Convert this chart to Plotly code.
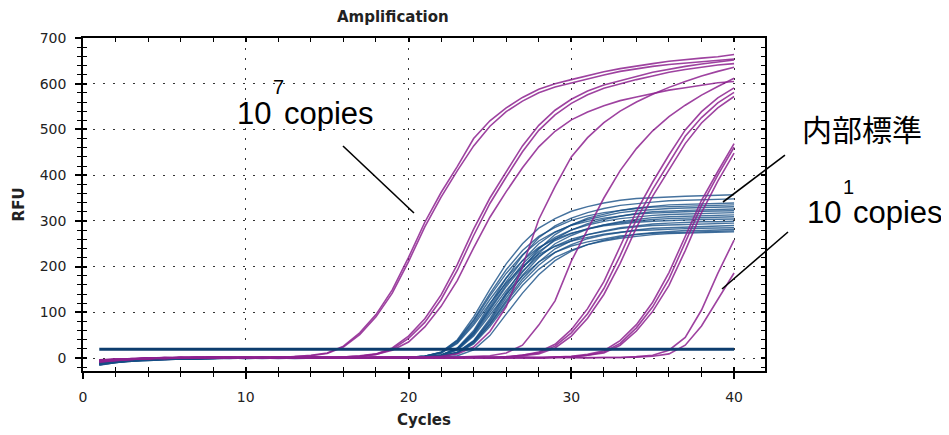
import plotly.graph_objects as go

# ---------------- data (RFU per cycle) ----------------
cycles = [1, 2, 3, 4, 5, 6, 7, 8, 9, 10, 11, 12, 13, 14, 15, 16, 17, 18, 19, 20,
          21, 22, 23, 24, 25, 26, 27, 28, 29, 30, 31, 32, 33, 34, 35, 36, 37, 38, 39, 40]

x_ticks = [0, 10, 20, 30, 40]
y_ticks = [0, 100, 200, 300, 400, 500, 600, 700]
threshold_rfu = 19

# target dilution series (magenta)
copies_1e7_a = [-6, -4, -3, -1, 0, 1, 0, 2, 1, 0, 1, 2, 3, 6, 11, 26, 55, 95, 149, 220,
                297, 362, 419, 480, 519, 547, 570, 588, 600, 609, 618, 626, 633, 639, 644, 649, 653, 656, 659, 664]
copies_1e7_b = [-9, -5, -2, -2, 1, 0, 1, 1, 0, 2, 1, 1, 3, 5, 10, 24, 51, 90, 142, 211,
                287, 352, 410, 464, 507, 539, 562, 580, 593, 602, 611, 619, 627, 633, 638, 642, 645, 648, 651, 654]
copies_1e6_a = [-7, -4, -2, 0, -1, 1, 0, 2, 1, 0, 2, 1, 0, 1, 2, 2, 5, 9, 22, 48,
                86, 138, 205, 282, 350, 408, 464, 509, 542, 566, 584, 597, 607, 616, 625, 632, 638, 643, 648, 652]
copies_1e6_b = [-5, -3, -1, -1, 0, 2, 1, 0, 1, 1, 0, 2, 1, 0, 1, 2, 4, 8, 19, 43,
                78, 128, 192, 268, 338, 396, 451, 498, 532, 557, 576, 590, 600, 609, 617, 625, 631, 636, 641, 644]
copies_1e6_c = [-8, -5, -3, -1, 0, 0, 1, 1, 2, 0, 1, 0, 1, 2, 1, 2, 4, 8, 17, 35,
                68, 113, 170, 241, 308, 364, 416, 462, 496, 521, 538, 552, 563, 571, 578, 586, 591, 597, 602, 605]
copies_1e5 = [-6, -4, -2, 0, -1, 0, 1, 2, 0, 1, 1, 0, 2, 1, 0, 1, 0, 1, 2, 1,
              2, 4, 9, 24, 58, 112, 200, 303, 375, 440, 482, 515, 540, 560, 577, 592, 605, 617, 627, 636]
copies_1e4 = [-5, -3, -2, -1, 0, 1, 0, 1, 2, 1, 0, 1, 1, 2, 0, 1, 0, 2, 1, 1,
              0, 1, 2, 3, 5, 11, 28, 72, 125, 212, 282, 350, 410, 458, 497, 528, 553, 575, 594, 612]
copies_1e3_a = [-4, -2, -3, 0, 1, 0, 0, 1, 2, 1, 1, 0, 2, 1, 0, 1, 1, 0, 2, 1,
                0, 1, 1, 2, 1, 3, 6, 13, 30, 62, 108, 167, 243, 321, 385, 444, 499, 539, 569, 591]
copies_1e3_b = [-7, -4, -2, -1, 0, 1, 2, 0, 1, 1, 0, 2, 1, 1, 0, 1, 2, 0, 1, 1,
                0, 1, 0, 1, 1, 2, 6, 11, 26, 55, 97, 152, 224, 303, 369, 427, 485, 526, 558, 581]
copies_1e3_c = [-5, -3, -1, 0, 0, 1, 1, 2, 0, 1, 2, 1, 0, 1, 1, 2, 0, 1, 0, 2,
                1, 0, 1, 1, 1, 2, 5, 9, 22, 48, 87, 139, 207, 285, 354, 412, 469, 514, 547, 572]
copies_1e2_a = [-6, -3, -2, 0, -1, 1, 0, 1, 2, 0, 1, 1, 2, 0, 1, 0, 1, 2, 1, 0,
                1, 1, 0, 2, 1, 0, 1, 1, 2, 4, 8, 16, 38, 73, 122, 187, 266, 345, 408, 469]
copies_1e2_b = [-8, -4, -1, -1, 0, 0, 1, 1, 0, 2, 1, 0, 1, 2, 1, 0, 1, 1, 2, 0,
                1, 0, 1, 1, 2, 0, 1, 0, 1, 3, 6, 13, 32, 66, 112, 173, 253, 334, 400, 461]
copies_1e2_c = [-5, -2, -2, 0, 1, 0, 2, 1, 1, 0, 1, 2, 0, 1, 1, 0, 2, 1, 0, 1,
                1, 2, 0, 1, 0, 1, 2, 1, 1, 2, 6, 11, 28, 59, 102, 159, 235, 318, 387, 448]
copies_1e1_a = [-6, -4, -2, -1, 0, 1, 1, 0, 2, 1, 0, 1, 1, 2, 0, 1, 0, 1, 2, 1,
                1, 0, 1, 2, 0, 1, 1, 0, 2, 1, 0, 1, 1, 3, 6, 17, 45, 105, 185, 258]
copies_1e1_b = [-7, -5, -3, -1, -1, 0, 1, 1, 0, 2, 1, 1, 0, 1, 2, 0, 1, 1, 0, 2,
                1, 0, 1, 1, 0, 2, 1, 0, 1, 1, 0, 1, 1, 2, 4, 9, 28, 70, 128, 186]

# internal standard (blue)
istd_01 = [-14, -9, -6, -4, -3, -2, -1, -1, 0, 0, -1, 0, 1, 0, 0, 1, 0, 1, 1,
           2, 4, 13, 40, 90, 150, 206, 250, 284, 305, 321, 331, 339, 345, 349, 351, 353, 354, 355, 356, 357]
istd_02 = [-11, -7, -5, -3, -2, -1, -1, 0, 0, 1, 0, 0, 1, 0, 1, 0, 1, 0, 1,
           1, 2, 7, 22, 60, 118, 175, 224, 263, 289, 306, 318, 327, 334, 338, 341, 344, 345, 346, 347, 348]
istd_03 = [-16, -10, -7, -5, -3, -2, -2, -1, -1, 0, 0, -1, 0, 0, 1, 0, 0, 1, 0,
           1, 2, 4, 13, 38, 86, 143, 196, 238, 270, 291, 306, 315, 323, 328, 332, 335, 336, 337, 338, 339]
istd_04 = [-9, -6, -4, -3, -2, -1, 0, 0, -1, 0, 1, 0, 0, 1, 0, 1, 1, 0, 1,
           2, 4, 13, 38, 84, 141, 193, 235, 266, 286, 301, 311, 318, 323, 327, 330, 331, 332, 333, 334, 335]
istd_05 = [-13, -8, -6, -4, -2, -2, -1, 0, 0, -1, 0, 1, 0, 0, 1, 0, 1, 1, 0,
           1, 2, 6, 21, 57, 112, 167, 213, 250, 275, 291, 303, 311, 318, 322, 325, 327, 328, 329, 330, 331]
istd_06 = [-10, -7, -4, -3, -2, -1, -1, 0, 0, 0, 1, 0, -1, 0, 0, 1, 0, 0, 1,
           1, 2, 4, 12, 37, 82, 138, 188, 229, 260, 280, 294, 303, 310, 316, 320, 322, 323, 324, 325, 326]
istd_07 = [-15, -10, -6, -4, -3, -2, -1, -1, 0, 0, 0, 1, 0, 1, 0, 0, 1, 0, 1,
           2, 4, 12, 36, 81, 136, 185, 226, 256, 276, 290, 299, 306, 311, 315, 317, 319, 320, 321, 322, 322]
istd_08 = [-12, -8, -5, -3, -2, -1, 0, -1, 0, 0, 1, 0, 0, 0, 1, 0, 0, 1, 1,
           1, 2, 6, 20, 55, 108, 160, 205, 240, 264, 280, 291, 299, 305, 309, 312, 314, 315, 316, 317, 318]
istd_09 = [-8, -5, -4, -2, -1, -1, 0, 0, 1, 0, 0, -1, 0, 1, 0, 0, 1, 0, 0,
           1, 1, 4, 12, 36, 79, 132, 181, 220, 250, 268, 282, 291, 298, 303, 307, 309, 310, 311, 312, 313]
istd_10 = [-13, -9, -6, -4, -3, -2, -1, 0, 0, 0, 1, 0, 1, 0, 0, 1, 0, 1, 0,
           1, 2, 6, 19, 53, 105, 156, 199, 233, 257, 272, 283, 291, 296, 300, 303, 305, 306, 307, 308, 309]
istd_11 = [-11, -7, -5, -3, -2, -1, -1, 0, -1, 0, 0, 1, 0, 0, 1, 0, 1, 0, 1,
           1, 4, 11, 34, 76, 128, 175, 213, 242, 260, 273, 282, 289, 293, 297, 299, 301, 302, 303, 303, 304]
istd_12 = [-14, -9, -6, -4, -2, -2, -1, 0, 0, 1, 0, 0, 0, 1, 0, 1, 0, 0, 1,
           1, 1, 4, 11, 34, 75, 126, 173, 210, 239, 256, 270, 278, 285, 289, 293, 295, 297, 298, 298, 299]
istd_13 = [-10, -6, -4, -3, -2, -1, 0, 0, 0, -1, 0, 1, 0, 0, 0, 1, 1, 0, 1,
           1, 2, 6, 19, 51, 100, 148, 190, 223, 245, 260, 270, 277, 283, 287, 290, 291, 292, 293, 294, 295]
istd_14 = [-12, -8, -5, -4, -2, -1, -1, -1, 0, 0, 1, 0, 1, 0, 1, 0, 0, 1, 0,
           1, 1, 4, 11, 33, 73, 122, 167, 203, 231, 248, 261, 269, 275, 280, 284, 285, 287, 288, 289, 290]
istd_15 = [-9, -6, -4, -2, -2, -1, 0, 0, 1, 0, 0, 0, 1, 0, 0, 1, 0, 1, 1,
           1, 4, 11, 32, 72, 120, 164, 200, 227, 244, 256, 264, 271, 275, 279, 280, 282, 283, 284, 284, 285]
istd_16 = [-15, -10, -7, -5, -3, -2, -1, -1, 0, 0, 0, 1, 0, 1, 0, 0, 0, 1, 0,
           0, 1, 2, 5, 18, 49, 96, 142, 182, 213, 234, 248, 258, 265, 271, 274, 277, 279, 279, 280, 281]
istd_17 = [-11, -7, -5, -3, -2, -1, 0, 0, 0, 1, 0, 0, 1, 0, 1, 0, 1, 0, 1,
           1, 2, 5, 17, 48, 94, 140, 179, 210, 231, 245, 254, 261, 267, 270, 273, 274, 275, 276, 277, 278]
istd_18 = [-13, -8, -5, -4, -2, -1, -1, 0, 0, 0, 1, 0, 0, 1, 0, 0, 1, 1, 0,
           1, 1, 3, 10, 31, 69, 116, 159, 194, 220, 236, 248, 256, 262, 266, 270, 272, 273, 274, 275, 276]

internal_standard = [istd_01, istd_02, istd_03, istd_04, istd_05, istd_06, istd_07, istd_08, istd_09,
                     istd_10, istd_11, istd_12, istd_13, istd_14, istd_15, istd_16, istd_17, istd_18]
dilution_series = [copies_1e7_a, copies_1e7_b, copies_1e6_a, copies_1e6_b, copies_1e6_c, copies_1e5,
                   copies_1e4, copies_1e3_a, copies_1e3_b, copies_1e3_c, copies_1e2_a, copies_1e2_b,
                   copies_1e2_c, copies_1e1_a, copies_1e1_b]

# ---------------- figure ----------------
BLUE = "#174f86"
PURPLE = "#8e2290"
THRESH = "#0d3d6e"

fig = go.Figure()
for ys in internal_standard:
    fig.add_trace(go.Scatter(x=cycles, y=ys, mode="lines",
                             line=dict(color=BLUE, width=1.4), opacity=0.8,
                             showlegend=False, hoverinfo="skip"))
for ys in dilution_series:
    fig.add_trace(go.Scatter(x=cycles, y=ys, mode="lines",
                             line=dict(color=PURPLE, width=1.6), opacity=0.85,
                             showlegend=False, hoverinfo="skip"))
fig.add_trace(go.Scatter(x=[cycles[0], cycles[-1]], y=[threshold_rfu, threshold_rfu], mode="lines",
                         line=dict(color=THRESH, width=3), showlegend=False, hoverinfo="skip"))
# empty trace to host the overlay axes that draw the inner half of the ticks
fig.add_trace(go.Scatter(x=[], y=[], xaxis="x2", yaxis="y2", showlegend=False, hoverinfo="skip"))

XR = [0, 41.9]
YR = [-28.4, 700]
tickfont = dict(family="DejaVu Sans", size=14, color="#222")
dotgrid = dict(showgrid=True, gridcolor="#333", gridwidth=1.4, griddash="1.6px,8.4px")

# the page body adds an 8px margin, so the figure is 8px smaller and margins 8px tighter
fig.update_layout(
    width=941, height=427,
    margin=dict(l=75, r=184, t=30, b=64),
    paper_bgcolor="white", plot_bgcolor="white",
    template="none", showlegend=False,
    xaxis=dict(range=XR, tickmode="array", tickvals=x_ticks, ticktext=[str(v) for v in x_ticks],
               showline=True, linecolor="black", linewidth=1.5, mirror=True,
               ticks="outside", ticklen=6, tickwidth=1.5, tickcolor="black",
               minor=dict(ticks="outside", dtick=2, tick0=0, ticklen=4, tickwidth=1.3,
                          tickcolor="black", showgrid=False),
               zeroline=False, tickfont=tickfont, ticklabelstandoff=6, **dotgrid),
    yaxis=dict(range=YR, tickmode="array", tickvals=y_ticks, ticktext=[str(v) for v in y_ticks],
               showline=True, linecolor="black", linewidth=1.5, mirror=True,
               ticks="outside", ticklen=6, tickwidth=1.5, tickcolor="black",
               minor=dict(ticks="outside", dtick=20, tick0=0, ticklen=4, tickwidth=1.3,
                          tickcolor="black", showgrid=False),
               zeroline=False, tickfont=tickfont, ticklabelstandoff=6, **dotgrid),
    xaxis2=dict(range=XR, overlaying="x", anchor="y", side="bottom",
                tickmode="array", tickvals=x_ticks, showticklabels=False,
                ticks="inside", ticklen=4, tickwidth=1.5, tickcolor="black", mirror="ticks",
                showline=False, showgrid=False, zeroline=False,
                minor=dict(ticks="inside", dtick=2, tick0=0, ticklen=4, tickwidth=1.3,
                           tickcolor="black", showgrid=False)),
    yaxis2=dict(range=YR, overlaying="y", anchor="x", side="left",
                tickmode="array", tickvals=y_ticks, showticklabels=False,
                ticks="inside", ticklen=4, tickwidth=1.5, tickcolor="black", mirror="ticks",
                showline=False, showgrid=False, zeroline=False,
                minor=dict(ticks="inside", dtick=20, tick0=0, ticklen=4, tickwidth=1.3,
                           tickcolor="black", showgrid=False)),
)

label_font = dict(family="DejaVu Sans", size=15, color="#222")
big = dict(family="Liberation Sans, Arial, sans-serif", size=31, color="black")
sup = dict(family="Liberation Sans, Arial, sans-serif", size=20, color="black")
cjk = dict(family="Noto Sans CJK JP", size=30, color="black")

def ann(text, x, y, font, xanchor="left", yanchor="middle", angle=0):
    fig.add_annotation(text=text, x=x, y=y, xref="paper", yref="paper", showarrow=False,
                       font=font, xanchor=xanchor, yanchor=yanchor, textangle=angle)

ann("<b>Amplification</b>", 0.4545, 1.063, label_font, xanchor="center")
ann("<b>Cycles</b>", 0.50, -0.147, label_font, xanchor="center")
ann("<b>RFU</b>", -0.094, 0.50, label_font, xanchor="center", angle=-90)

ann("10", 0.2235, 0.773, big)
ann("7", 0.2755, 0.854, sup)
ann("copies", 0.2915, 0.773, big)

ann("内部標準", 1.052, 0.7297, cjk)

ann("10", 1.059, 0.4745, big)
ann("1", 1.111, 0.554, sup)
ann("copies", 1.126, 0.4745, big)

for (x0, y0, x1, y1) in [(0.3812, 0.6757, 0.4853, 0.4745),
                         (1.0293, 0.6486, 0.9384, 0.5075),
                         (1.0337, 0.4174, 0.9370, 0.2462)]:
    fig.add_shape(type="line", xref="paper", yref="paper", x0=x0, y0=y0, x1=x1, y1=y1,
                  line=dict(color="black", width=1.6))

fig.write_html("out.html")
